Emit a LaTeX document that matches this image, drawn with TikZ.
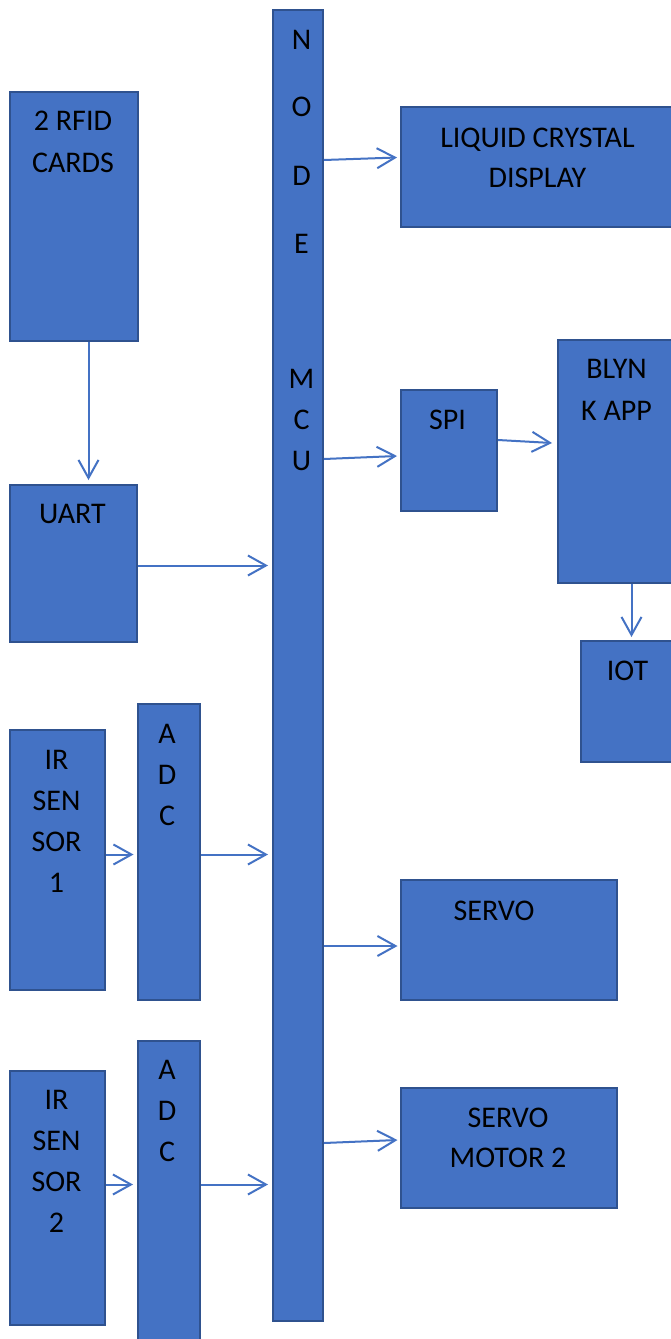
\documentclass[tikz,border=0pt]{standalone}
\usepackage{fontspec}
\setmainfont{Carlito}
\usetikzlibrary{arrows.meta}
\definecolor{boxfill}{HTML}{4472C4}
\definecolor{boxline}{HTML}{2F528F}
\tikzset{
  box/.style={draw=boxline, fill=boxfill, line width=2pt, inner sep=0pt, anchor=north west},
  lbl/.style={anchor=base, inner sep=0pt, text=black, font=\fontsize{30}{36}\selectfont},
  arr/.style={draw=boxfill, line width=2pt, -{Straight Barb[length=18pt, width=20pt, line width=2pt]}},
}
\newcommand{\bx}[5]{\node[box, minimum width=#4pt, minimum height=#5pt] (#1) at (#2,#3) {};}
\begin{document}
\begin{tikzpicture}[x=1pt, y=-1pt]
\clip (0,0) rectangle (671,1339);
\fill[white] (0,0) rectangle (671,1339);
% boxes
\bx{rfid}{9}{91}{128}{249}
\bx{uart}{9}{484}{127}{157}
\bx{irone}{9}{729}{95}{260}
\bx{adcone}{137}{703}{62}{296}
\bx{irtwo}{9}{1070}{95}{254}
\bx{adctwo}{137}{1040}{62}{320}
\bx{mcu}{272}{9}{50}{1311}
\bx{lcd}{400}{106}{275}{120}
\bx{spi}{400}{389}{96}{121}
\bx{blynk}{557}{339}{118}{243}
\bx{iot}{580}{640}{95}{121}
\bx{servo}{400}{879}{216}{120}
\bx{servotwo}{400}{1087}{216}{120}
% labels
\node[lbl] (t1a) at (73,130) {2 RFID};
\node[lbl] (t1b) at (73,172) {CARDS};
\node[lbl] (t2) at (72.5,523) {UART};
\node[lbl] (t3a) at (56.5,769) {IR};
\node[lbl] (t3b) at (56.5,810) {SEN};
\node[lbl] (t3c) at (56.5,851) {SOR};
\node[lbl] (t3d) at (56.5,892) {1};
\node[lbl] (t4a) at (167,743) {A};
\node[lbl] (t4b) at (167,784) {D};
\node[lbl] (t4c) at (167,825) {C};
\node[lbl] (t5a) at (56.5,1109) {IR};
\node[lbl] (t5b) at (56.5,1150) {SEN};
\node[lbl] (t5c) at (56.5,1191) {SOR};
\node[lbl] (t5d) at (56.5,1232) {2};
\node[lbl] (t6a) at (167,1079) {A};
\node[lbl] (t6b) at (167,1120) {D};
\node[lbl] (t6c) at (167,1161) {C};
\node[lbl] (m1) at (301.5,49) {N};
\node[lbl] (m2) at (301.5,116) {O};
\node[lbl] (m3) at (301.5,185) {D};
\node[lbl] (m4) at (301.5,253) {E};
\node[lbl] (m5) at (301.5,388) {M};
\node[lbl] (m6) at (301.5,429) {C};
\node[lbl] (m7) at (301.5,470) {U};
\node[lbl] (t7a) at (537.5,147) {LIQUID CRYSTAL};
\node[lbl] (t7b) at (537.5,187) {DISPLAY};
\node[lbl] (t8) at (447.5,429) {SPI};
\node[lbl] (t9a) at (616.5,378) {BLYN};
\node[lbl] (t9b) at (616.5,420) {K APP};
\node[lbl] (t10) at (627.5,680) {IOT};
\node[lbl] (t11) at (494,920) {SERVO};
\node[lbl] (t12a) at (508,1127) {SERVO};
\node[lbl] (t12b) at (508,1167) {MOTOR 2};
% connectors
\draw[arr] (rfid.south -| 88.5,0) -- (88.5,480);
\draw[arr] (uart.east |- 0,565.5) -- (268,565.5);
\draw[arr] (irone.east |- 0,854.5) -- (133.5,854.5);
\draw[arr] (adcone.east |- 0,854.5) -- (268,854.5);
\draw[arr] (irtwo.east |- 0,1184.5) -- (133,1184.5);
\draw[arr] (adctwo.east |- 0,1184.5) -- (268,1184.5);
\draw[arr] (mcu.east |- 0,160) -- (397,157.5);
\draw[arr] (mcu.east |- 0,459) -- (397,456);
\draw[arr] (spi.east |- 0,440) -- (552,443);
\draw[arr] (blynk.south -| 631.5,0) -- (631.5,637);
\draw[arr] (mcu.east |- 0,946) -- (397.5,946);
\draw[arr] (mcu.east |- 0,1143) -- (397.5,1140);
\end{tikzpicture}
\end{document}
